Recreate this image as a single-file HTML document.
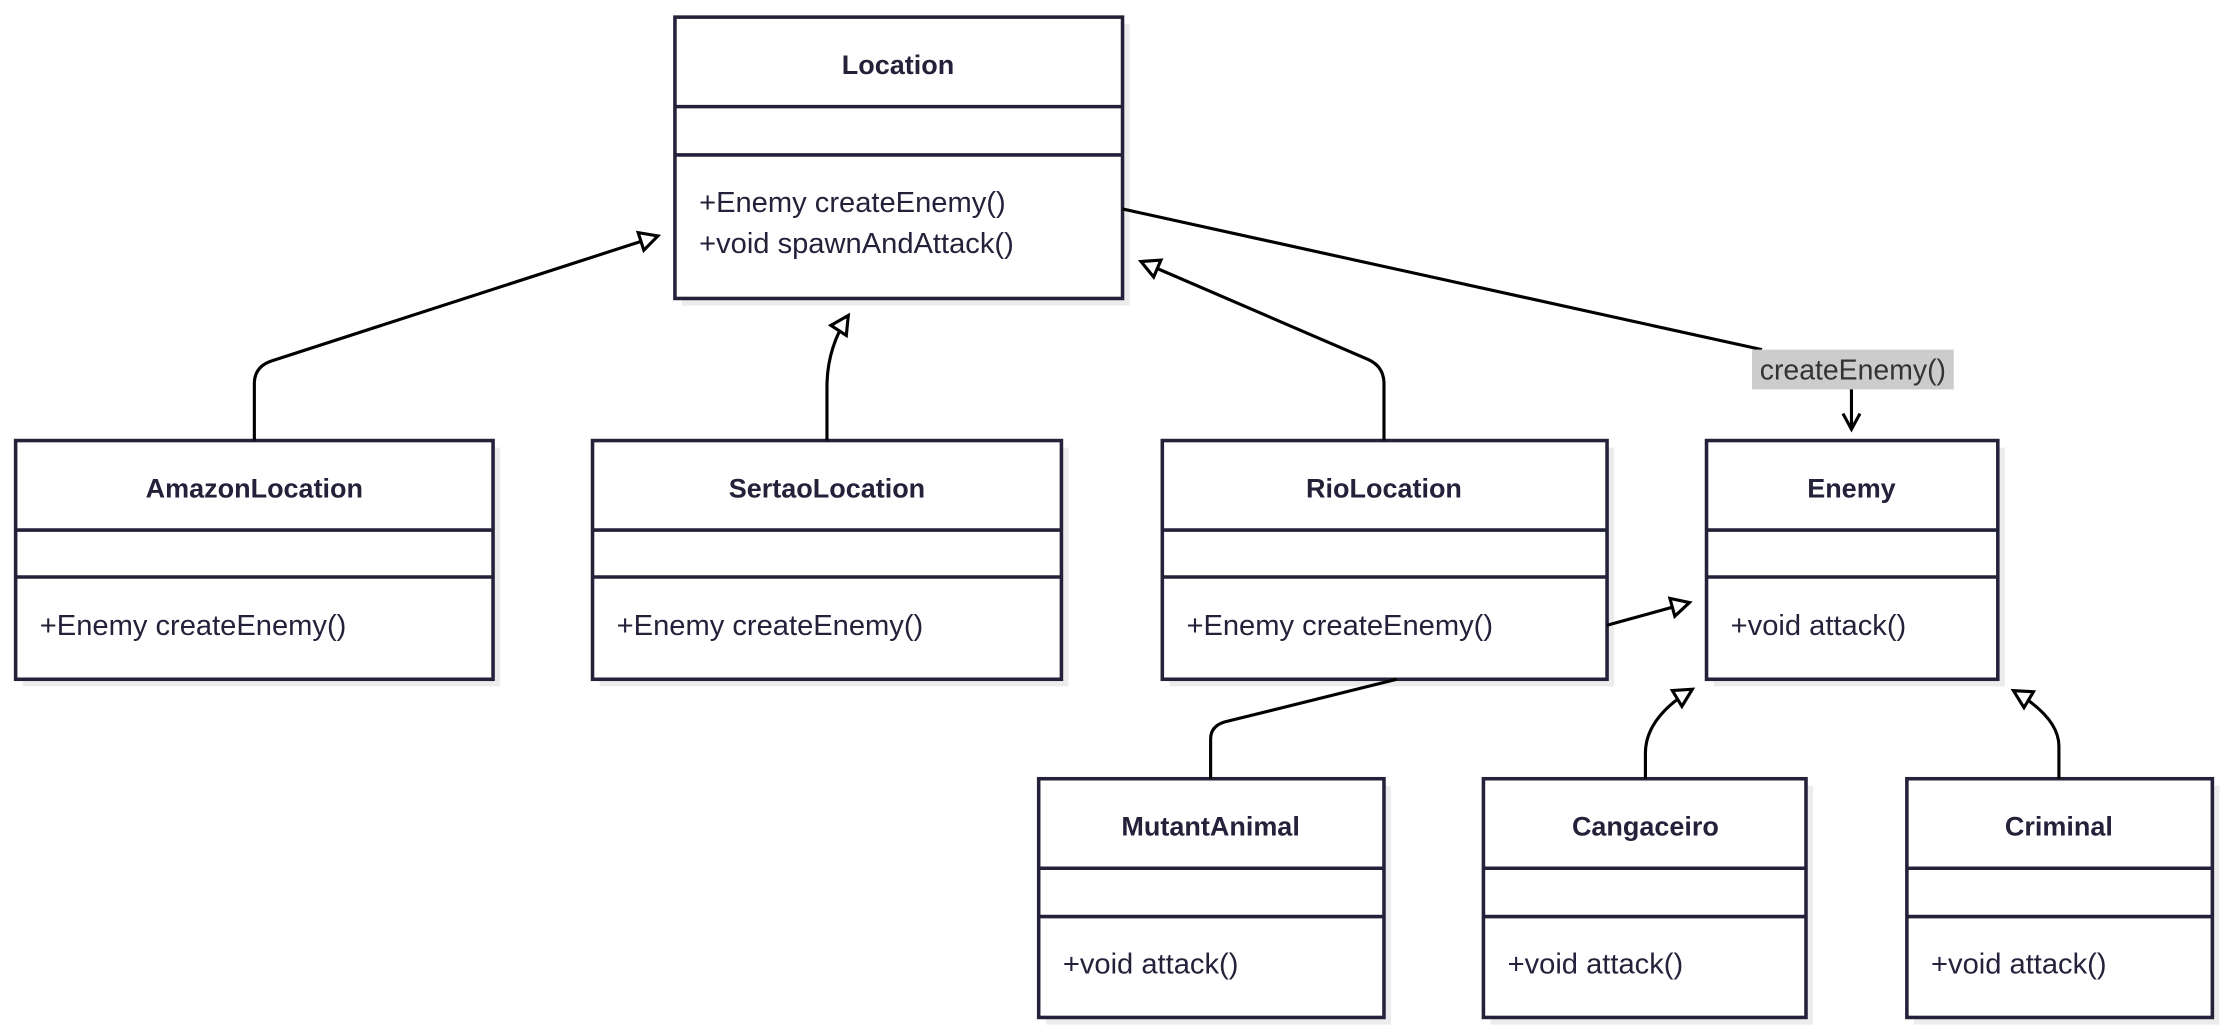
<!DOCTYPE html>
<html><head><meta charset="utf-8"><style>
html,body{margin:0;padding:0;background:#fff;}
svg{display:block;}
text{font-family:"Liberation Sans",sans-serif;fill:#23223a;}
.t{font-weight:bold;font-size:19px;text-anchor:middle;}
.m{font-size:20.5px;}
.b{fill:#fff;stroke:#23223a;stroke-width:2.5;}
.s{fill:#ececec;}
.d{stroke:#23223a;stroke-width:2.5;}
.e{fill:none;stroke:#000;stroke-width:2.2;}
</style></head><body>
<svg width="2228" height="1036" viewBox="0 0 1568 729" xmlns="http://www.w3.org/2000/svg">
<defs>
<marker id="tri" viewBox="0 0 16 16" refX="14" refY="8" markerWidth="16" markerHeight="16" markerUnits="userSpaceOnUse" orient="auto" overflow="visible">
<path d="M1.5,1.5 L14,8 L1.5,14.5 Z" fill="#fff" stroke="#000" stroke-width="2.2"/>
</marker>
<marker id="arr" viewBox="0 0 16 16" refX="14" refY="8" markerWidth="16" markerHeight="16" markerUnits="userSpaceOnUse" orient="auto" overflow="visible">
<path d="M3,2 L14,8 L3,14" fill="none" stroke="#000" stroke-width="2.2"/>
</marker>
</defs>

<g>
<rect class="s" x="480" y="17" width="315" height="198"/>
<rect class="b" x="475" y="12" width="315" height="198"/>
<line class="d" x1="475" y1="75" x2="790" y2="75"/><line class="d" x1="475" y1="109" x2="790" y2="109"/>
<text class="t" x="632" y="52">Location</text>
<text class="m" x="492" y="149">+Enemy createEnemy()</text>
<text class="m" x="492" y="178">+void spawnAndAttack()</text>
</g>

<g>
<rect class="s" x="16" y="315" width="336" height="168"/>
<rect class="b" x="11" y="310" width="336" height="168"/>
<line class="d" x1="11" y1="373" x2="347" y2="373"/><line class="d" x1="11" y1="406" x2="347" y2="406"/>
<text class="t" x="179" y="350">AmazonLocation</text>
<text class="m" x="28" y="447">+Enemy createEnemy()</text>
</g>

<g>
<rect class="s" x="422" y="315" width="330" height="168"/>
<rect class="b" x="417" y="310" width="330" height="168"/>
<line class="d" x1="417" y1="373" x2="747" y2="373"/><line class="d" x1="417" y1="406" x2="747" y2="406"/>
<text class="t" x="582" y="350">SertaoLocation</text>
<text class="m" x="434" y="447">+Enemy createEnemy()</text>
</g>

<g>
<rect class="s" x="823" y="315" width="313" height="168"/>
<rect class="b" x="818" y="310" width="313" height="168"/>
<line class="d" x1="818" y1="373" x2="1131" y2="373"/><line class="d" x1="818" y1="406" x2="1131" y2="406"/>
<text class="t" x="974" y="350">RioLocation</text>
<text class="m" x="835" y="447">+Enemy createEnemy()</text>
</g>

<g>
<rect class="s" x="1206" y="315" width="205" height="168"/>
<rect class="b" x="1201" y="310" width="205" height="168"/>
<line class="d" x1="1201" y1="373" x2="1406" y2="373"/><line class="d" x1="1201" y1="406" x2="1406" y2="406"/>
<text class="t" x="1303" y="350">Enemy</text>
<text class="m" x="1218" y="447">+void attack()</text>
</g>

<g>
<rect class="s" x="736" y="553" width="243" height="168"/>
<rect class="b" x="731" y="548" width="243" height="168"/>
<line class="d" x1="731" y1="611" x2="974" y2="611"/><line class="d" x1="731" y1="645" x2="974" y2="645"/>
<text class="t" x="852" y="588">MutantAnimal</text>
<text class="m" x="748" y="685">+void attack()</text>
</g>

<g>
<rect class="s" x="1049" y="553" width="227" height="168"/>
<rect class="b" x="1044" y="548" width="227" height="168"/>
<line class="d" x1="1044" y1="611" x2="1271" y2="611"/><line class="d" x1="1044" y1="645" x2="1271" y2="645"/>
<text class="t" x="1158" y="588">Cangaceiro</text>
<text class="m" x="1061" y="685">+void attack()</text>
</g>

<g>
<rect class="s" x="1347" y="553" width="215" height="168"/>
<rect class="b" x="1342" y="548" width="215" height="168"/>
<line class="d" x1="1342" y1="611" x2="1557" y2="611"/><line class="d" x1="1342" y1="645" x2="1557" y2="645"/>
<text class="t" x="1449" y="588">Criminal</text>
<text class="m" x="1359" y="685">+void attack()</text>
</g>

<path class="e" d="M179,310 L179,270 Q179,258 191,254 L463,166" marker-end="url(#tri)"/>
<path class="e" d="M582,310 L582,272 Q582,245 597,222" marker-end="url(#tri)"/>
<path class="e" d="M974,310 L974,270 Q974,258 963,253 L803,184" marker-end="url(#tri)"/>
<path class="e" d="M1131,440 L1189,424" marker-end="url(#tri)"/>
<path class="e" d="M852,548 L852,520 Q852,511 862,508 L983,478"/>
<path class="e" d="M1158,548 L1158,530 Q1158,505 1191,485" marker-end="url(#tri)"/>
<path class="e" d="M1449,548 L1449,525 Q1449,505 1417,486" marker-end="url(#tri)"/>
<path class="e" d="M790,147 L1240,246"/>
<rect x="1233" y="246" width="142" height="28" fill="#cccccc"/>
<text x="1304" y="267" style="font-size:20px;text-anchor:middle;fill:#333">createEnemy()</text>
<path class="e" d="M1303,274 L1303,302" marker-end="url(#arr)"/>
</svg>
</body></html>
